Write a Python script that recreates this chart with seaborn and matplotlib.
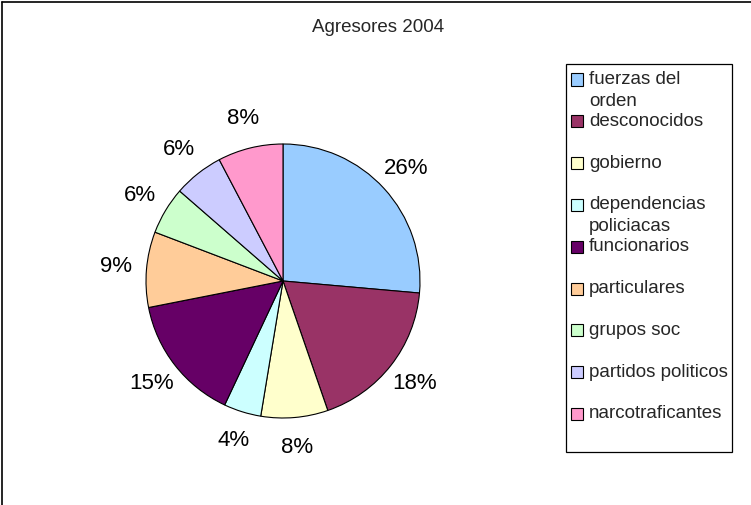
import matplotlib.pyplot as plt
import seaborn as sns
from matplotlib.patches import Rectangle
from matplotlib.lines import Line2D

# --- data ---
categories = ['fuerzas del\norden', 'desconocidos', 'gobierno', 'dependencias\npoliciacas',
              'funcionarios', 'particulares', 'grupos soc', 'partidos politicos',
              'narcotraficantes']
shares = [26.4, 18.3, 7.9, 4.4, 14.9, 8.9, 5.6, 5.9, 7.7]
colors = ['#99CCFF', '#993366', '#FFFFCC', '#CCFFFF', '#660066',
          '#FFCC99', '#CCFFCC', '#CCCCFF', '#FF99CC']
title = 'Agresores 2004'

sns.set_style('white')
plt.rcParams['font.family'] = ['Liberation Sans', 'DejaVu Sans']

W, H = 751, 505
fig = plt.figure(figsize=(W / 100, H / 100), dpi=100)
fig.patch.set_facecolor('white')

# pie centre (283, 281) px, radius 137 px; pie() uses limits of +-1.25
cx, cy, r = 283, 281, 137
side = 2.5 * r
ax = fig.add_axes([(cx - side / 2) / W, (H - cy - side / 2) / H, side / W, side / H])
wedges, texts, autotexts = ax.pie(
    shares, colors=colors, startangle=90, counterclock=False,
    autopct='%.0f%%', pctdistance=1.22,
    wedgeprops=dict(edgecolor='black', linewidth=0.8),
    textprops=dict(fontsize=16, color='black'))

fig.text(378 / W, 1 - 28 / H, title, ha='center', va='center', fontsize=13.5)

# legend box drawn like the spreadsheet one
lx0, lx1, ly0, ly1 = 566, 732, 64, 452
fig.add_artist(Rectangle((lx0 / W, 1 - ly1 / H), (lx1 - lx0) / W, (ly1 - ly0) / H,
                         transform=fig.transFigure, facecolor='white',
                         edgecolor='black', linewidth=0.9))
step = 41.8
for i, (lab, col) in enumerate(zip(categories, colors)):
    yc = 79.5 + i * step
    fig.add_artist(Rectangle((571 / W, 1 - (yc + 6) / H), 12 / W, 12 / H,
                             transform=fig.transFigure, facecolor=col,
                             edgecolor='black', linewidth=0.8))
    for j, line in enumerate(lab.split('\n')):
        fig.text(589 / W, 1 - (yc + j * 22) / H, line, ha='left', va='center',
                 fontsize=13.5)

# outer chart border (top and left visible)
fig.add_artist(Line2D([1.5 / W, 1.5 / W], [0, 1 - 1.5 / H], transform=fig.transFigure,
                      color='black', linewidth=1.2))
fig.add_artist(Line2D([1.5 / W, 1], [1 - 1.5 / H, 1 - 1.5 / H], transform=fig.transFigure,
                      color='black', linewidth=1.2))

fig.savefig('out.png', dpi=100)
